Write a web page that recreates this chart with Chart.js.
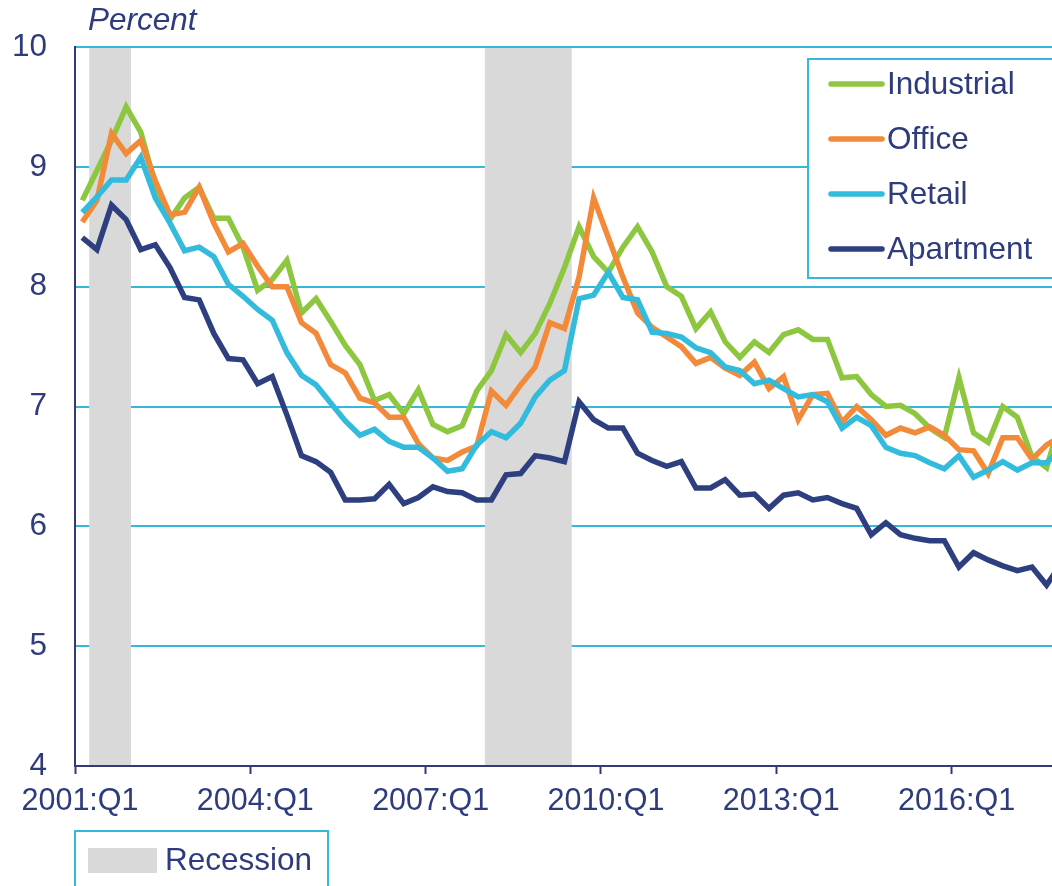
<!DOCTYPE html>
<html><head><meta charset="utf-8">
<script src="https://cdn.jsdelivr.net/npm/chart.js@4.4.1/dist/chart.umd.min.js"></script>
<style>html,body{margin:0;padding:0;background:#fff;overflow:hidden}canvas{display:block}</style>
</head><body>
<canvas id="c" width="1052" height="886"></canvas>
<script>
// Quarterly data, 2001:Q1 onward (index 0 = 2001:Q1)
const tickLabels = ['2001:Q1','2004:Q1','2007:Q1','2010:Q1','2013:Q1','2016:Q1'];
const seriesNames = ['Industrial','Office','Retail','Apartment'];

const industrial = [8.72, 8.97, 9.22, 9.50, 9.29, 8.85, 8.56, 8.74, 8.83, 8.57,
  8.57, 8.33, 7.97, 8.06, 8.22, 7.78, 7.90, 7.71, 7.51, 7.35,
  7.05, 7.10, 6.94, 7.14, 6.85, 6.79, 6.84, 7.13, 7.30, 7.60,
  7.45, 7.61, 7.86, 8.16, 8.50, 8.25, 8.12, 8.33, 8.50, 8.29,
  8.00, 7.92, 7.65, 7.79, 7.54, 7.41, 7.54, 7.45, 7.60, 7.64,
  7.56, 7.56, 7.24, 7.25, 7.10, 7.00, 7.01, 6.94, 6.82, 6.74,
  7.24, 6.78, 6.70, 7.00, 6.91, 6.58, 6.49, 6.90];

const office = [8.54, 8.72, 9.28, 9.11, 9.22, 8.88, 8.60, 8.62, 8.83, 8.53,
  8.29, 8.36, 8.17, 8.00, 8.00, 7.70, 7.61, 7.35, 7.28, 7.07,
  7.03, 6.91, 6.91, 6.69, 6.57, 6.55, 6.62, 6.67, 7.13, 7.01,
  7.18, 7.33, 7.70, 7.65, 8.08, 8.74, 8.41, 8.08, 7.78, 7.66,
  7.58, 7.50, 7.36, 7.41, 7.32, 7.26, 7.37, 7.15, 7.25, 6.89,
  7.10, 7.11, 6.87, 7.00, 6.89, 6.76, 6.82, 6.78, 6.83, 6.76,
  6.64, 6.63, 6.44, 6.74, 6.74, 6.56, 6.68, 6.75];

const retail = [8.62, 8.75, 8.89, 8.89, 9.08, 8.74, 8.53, 8.30, 8.33, 8.25,
  8.02, 7.92, 7.81, 7.72, 7.45, 7.26, 7.18, 7.03, 6.88, 6.76,
  6.81, 6.71, 6.66, 6.66, 6.57, 6.46, 6.48, 6.68, 6.79, 6.74,
  6.86, 7.08, 7.22, 7.30, 7.90, 7.93, 8.12, 7.91, 7.89, 7.62,
  7.61, 7.58, 7.49, 7.45, 7.33, 7.30, 7.19, 7.22, 7.15, 7.08,
  7.10, 7.04, 6.82, 6.91, 6.84, 6.66, 6.61, 6.59, 6.53, 6.48,
  6.59, 6.41, 6.47, 6.54, 6.47, 6.53, 6.53, 6.65];

const apartment = [8.41, 8.31, 8.68, 8.56, 8.31, 8.35, 8.16, 7.91, 7.89, 7.61,
  7.40, 7.39, 7.19, 7.25, 6.93, 6.59, 6.54, 6.45, 6.22, 6.22,
  6.23, 6.35, 6.19, 6.24, 6.33, 6.29, 6.28, 6.22, 6.22, 6.43,
  6.44, 6.59, 6.57, 6.54, 7.04, 6.89, 6.82, 6.82, 6.61, 6.55,
  6.50, 6.54, 6.32, 6.32, 6.39, 6.26, 6.27, 6.15, 6.26, 6.28,
  6.22, 6.24, 6.19, 6.15, 5.93, 6.03, 5.93, 5.90, 5.88, 5.88,
  5.66, 5.78, 5.72, 5.67, 5.63, 5.66, 5.51, 5.69];

// Recession periods, in quarter-index units
const recessionStart = [0.47, 27.55];
const recessionEnd = [3.33, 33.5];

// Styles
const NAVY = '#2E3B7C';
const CYAN = '#35B8DA';
const GREY = '#D9D9D9';
const seriesColors = ['#8DC63F', '#F28A3A', '#33BBDD', '#2E3F80'];
const FONT = "'Liberation Sans', Arial, sans-serif";

const allSeries = [industrial, office, retail, apartment];
const datasets = allSeries.map((vals, k) => ({
  label: seriesNames[k],
  data: vals.map((v, i) => ({x: i, y: v})),
  borderColor: seriesColors[k],
  backgroundColor: seriesColors[k],
  borderWidth: 5.5,
  pointRadius: 0,
  tension: 0,
  borderJoinStyle: 'miter',
  fill: false,
  order: 4 - k
}));

const decor = {
  id: 'decor',
  beforeDatasetsDraw(chart) {
    const {ctx, chartArea: a, scales: {x}} = chart;
    ctx.save();
    ctx.fillStyle = GREY;
    recessionStart.forEach((s, k) => {
      const x0 = x.getPixelForValue(s), x1 = x.getPixelForValue(recessionEnd[k]);
      ctx.fillRect(x0, a.top + 1, x1 - x0, a.bottom - a.top - 2);
    });
    ctx.restore();
  },
  afterDraw(chart) {
    const ctx = chart.ctx;
    ctx.save();
    ctx.textBaseline = 'middle';
    ctx.textAlign = 'left';
    ctx.fillStyle = NAVY;
    ctx.font = 'italic 31.5px ' + FONT;
    ctx.fillText('Percent', 88, 21);
    // series legend
    ctx.fillStyle = '#fff';
    ctx.fillRect(808, 59, 270, 219);
    ctx.strokeStyle = CYAN; ctx.lineWidth = 2;
    ctx.strokeRect(808, 59, 270, 219);
    ctx.font = '31.5px ' + FONT;
    chart.data.datasets.forEach((ds, k) => {
      const y = 84 + 55 * k;
      ctx.strokeStyle = ds.borderColor; ctx.lineWidth = 5.5; ctx.lineCap = 'round';
      ctx.beginPath(); ctx.moveTo(831, y); ctx.lineTo(882, y); ctx.stroke();
      ctx.fillStyle = NAVY;
      ctx.fillText(ds.label, 887, y + 1);
    });
    // recession legend
    ctx.strokeStyle = CYAN; ctx.lineWidth = 2; ctx.lineCap = 'butt';
    ctx.strokeRect(75, 831, 253, 80);
    ctx.fillStyle = GREY; ctx.fillRect(88, 848, 69, 25);
    ctx.fillStyle = NAVY;
    ctx.fillText('Recession', 165, 861);
    ctx.restore();
  }
};

new Chart(document.getElementById('c'), {
  type: 'line',
  data: {datasets},
  options: {
    responsive: false,
    animation: false,
    devicePixelRatio: 1,
    layout: {padding: {top: 47, left: 0, right: 0, bottom: 0}},
    plugins: {legend: {display: false}, tooltip: {enabled: false}},
    scales: {
      x: {
        type: 'linear',
        min: -0.5,
        max: 66.37,
        afterBuildTicks: (s) => { s.ticks = tickLabels.map((_, k) => ({value: -0.5 + 12 * k})); },
        afterFit: (s) => { s.height = 120; },
        grid: {drawOnChartArea: false, drawTicks: true, tickLength: 8, tickColor: NAVY, tickWidth: 2},
        border: {display: true, color: NAVY, width: 2},
        ticks: {
          color: NAVY, font: {family: FONT, size: 30.5}, padding: 9, labelOffset: 5,
          maxRotation: 0, autoSkip: false,
          callback: (v) => tickLabels[Math.round((v + 0.5) / 12)]
        }
      },
      y: {
        min: 4, max: 10,
        afterFit: (s) => { s.width = 75; },
        grid: {color: CYAN, lineWidth: 2, drawTicks: false},
        border: {display: true, color: NAVY, width: 2},
        ticks: {stepSize: 1, color: NAVY, font: {family: FONT, size: 31.5}, padding: 28}
      }
    }
  },
  plugins: [decor]
});
</script>
</body></html>
